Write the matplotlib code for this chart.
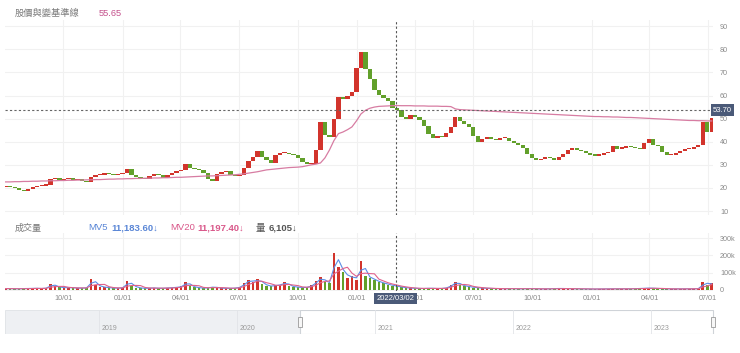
import matplotlib
matplotlib.use("Agg")
import matplotlib.pyplot as plt
import matplotlib.dates as mdates
import matplotlib.transforms as mtrans
from matplotlib.patches import Rectangle
import numpy as np
import pandas as pd

plt.rcParams['font.family'] = ['Liberation Sans', 'Noto Sans CJK TC', 'DejaVu Sans']

# ── data (weekly) ───────────────────────────────────────────
start = "2020-07-03"
close = [20.5, 20.3, 19.8, 19.2, 18.8, 19.5, 20.4, 20.8, 21.0, 21.3,
         23.9, 24.2, 23.4, 23.8, 24.3, 23.5, 23.9, 23.0, 22.6, 24.8,
         25.4, 25.8, 26.4, 26.0, 25.6, 26.1, 26.5, 28.0, 25.4, 24.7,
         24.2, 23.9, 25.2, 26.0, 25.6, 24.3, 25.5, 26.4, 27.3, 27.8,
         30.5, 28.6, 28.2, 27.6, 26.4, 23.8, 22.8, 26.2, 27.0, 27.3,
         25.6, 25.2, 25.6, 28.5, 31.5, 33.5, 36.0, 33.4, 32.0, 30.8,
         34.2, 35.0, 35.1, 34.6, 34.2, 33.0, 31.2, 30.2, 30.4, 36.4,
         48.5, 43.0, 42.0, 50.0, 59.4, 58.5, 60.0, 61.5, 72.0, 78.8,
         71.5, 67.0, 62.5, 60.2, 59.0, 57.5, 54.6, 53.7, 50.8, 50.0,
         51.6, 50.6, 49.2, 46.8, 43.5, 41.6, 42.3, 42.0, 43.8, 46.5,
         50.7, 48.8, 47.5, 46.4, 42.5, 39.9, 41.2, 42.0, 41.0, 40.7,
         41.5, 41.6, 40.2, 39.4, 38.5, 37.3, 34.5, 33.0, 32.2, 32.6,
         33.4, 32.8, 32.0, 33.5, 34.6, 36.2, 37.3, 36.4, 35.8, 35.0,
         34.3, 34.0, 34.3, 35.0, 35.5, 38.1, 37.0, 37.3, 38.1, 37.6,
         37.3, 36.8, 39.5, 41.2, 38.6, 38.1, 35.5, 34.2, 34.2, 35.2,
         35.8, 36.8, 37.0, 37.7, 38.6, 48.5, 44.0, 50.3]
baseline = [22.6, 22.6, 22.7, 22.7, 22.8, 22.8, 22.9, 22.9, 23.0, 23.0,
            23.1, 23.1, 23.2, 23.2, 23.3, 23.3, 23.4, 23.4, 23.5, 23.5,
            23.6, 23.6, 23.7, 23.8, 23.8, 23.9, 23.9, 24.0, 24.0, 24.1,
            24.1, 24.2, 24.2, 24.3, 24.3, 24.4, 24.4, 24.5, 24.6, 24.6,
            24.7, 24.8, 24.9, 25.0, 25.1, 25.2, 25.2, 25.3, 25.4, 25.5,
            25.6, 25.7, 25.9, 26.1, 26.4, 26.7, 27.0, 27.4, 27.8, 28.0,
            28.2, 28.4, 28.6, 28.8, 28.9, 29.0, 29.2, 29.6, 30.0, 30.3,
            30.8, 33.0, 36.4, 40.5, 43.5, 44.2, 45.2, 46.4, 49.0, 52.0,
            53.6, 54.5, 55.0, 55.3, 55.4, 55.5, 55.6, 55.65, 55.6, 55.6,
            55.6, 55.5, 55.5, 55.5, 55.4, 55.4, 55.4, 55.3, 55.3, 55.2,
            54.2, 53.9, 53.8, 53.7, 53.6, 53.5, 53.4, 53.3, 53.2, 53.1,
            53.0, 52.9, 52.8, 52.7, 52.6, 52.5, 52.4, 52.3, 52.2, 52.1,
            52.0, 51.9, 51.8, 51.7, 51.6, 51.5, 51.4, 51.3, 51.2, 51.1,
            51.0, 50.9, 50.9, 50.8, 50.8, 50.7, 50.7, 50.6, 50.5, 50.5,
            50.4, 50.3, 50.2, 50.1, 50.0, 49.9, 49.8, 49.7, 49.6, 49.5,
            49.4, 49.3, 49.2, 49.2, 49.1, 49.1, 49.0, 49.0]
volume_k = [8, 7, 6, 7, 9, 8, 10, 9, 8, 12,
            35, 20, 15, 12, 14, 12, 10, 11, 13, 65,
            30, 18, 15, 12, 10, 11, 14, 52, 25, 14,
            10, 9, 12, 11, 9, 10, 12, 14, 16, 20,
            48, 22, 15, 12, 10, 14, 18, 12, 10, 9,
            10, 11, 18, 40, 58, 45, 63, 35, 25, 20,
            30, 28, 46, 22, 18, 15, 14, 16, 28, 52,
            72, 45, 40, 215, 135, 105, 70, 80, 60, 168,
            80, 70, 55, 45, 38, 30, 25, 20, 15, 12,
            10, 9, 8, 9, 10, 9, 8, 9, 14, 30,
            47, 28, 22, 18, 14, 12, 10, 9, 8, 8,
            7, 7, 8, 7, 6, 7, 8, 7, 6, 6,
            6, 7, 8, 9, 8, 7, 7, 6, 6, 6,
            5, 5, 6, 6, 6, 7, 6, 6, 6, 7,
            8, 9, 10, 11, 9, 8, 7, 6, 6, 6,
            6, 7, 6, 7, 8, 47, 30, 40]

cross_date = "2022-03-02"
cross_price = 53.70
header_name = "股價與變基準線"
header_value = "55.65"
mv5_text = "11,183.60↓"
mv20_text = "11,197.40↓"
vol_text = "6,105↓"

price_ticks = [10, 20, 30, 40, 50, 60, 70, 80, 90]
vol_ticks = [0, 100_000, 200_000, 300_000]
vol_tick_labels = ["0", "100k", "200k", "300k"]
nav_years = [2019, 2020, 2021, 2022, 2023]

# ── prep ────────────────────────────────────────────────────
dates = pd.date_range(start, periods=len(close), freq="7D")
c = np.array(close)
o = np.r_[c[0], c[:-1]]
up = c >= o
RED, GREEN = "#d2342c", "#62a02b"
cols = np.where(up, RED, GREEN)
vol = pd.Series(volume_k, dtype=float) * 1000
mv5 = vol.rolling(2, min_periods=1).mean()
mv20 = vol.rolling(4, min_periods=1).mean()
xd = pd.Timestamp(cross_date)

W, H = 740, 353
fig = plt.figure(figsize=(W / 100, H / 100), dpi=100)
fig.patch.set_facecolor("white")

ax_p = fig.add_axes([5 / W, 138 / H, 708 / W, 195 / H])
ax_v = fig.add_axes([5 / W, 62 / H, 708 / W, 58 / H], sharex=ax_p)
ax_n = fig.add_axes([5 / W, 19 / H, 710 / W, 24 / H])

# ── price panel ─────────────────────────────────────────────
ax_p.bar(dates, np.maximum(np.abs(c - o), 0.5), bottom=np.minimum(c, o),
         width=6.6, color=cols, linewidth=0, zorder=3)
ax_p.plot(dates, baseline, color="#d77ca2", lw=0.9, zorder=4)
ax_p.axvline(xd, color="#555", ls=(0, (2, 2)), lw=0.8, zorder=5)
ax_p.axhline(cross_price, color="#666", ls=(0, (2, 2)), lw=0.8, zorder=5)
ax_p.set_ylim(8.27, 92.7)
ax_p.set_yticks(price_ticks)
ax_p.yaxis.tick_right()
ax_p.tick_params(axis="y", length=0, pad=5, labelsize=5.2, labelcolor="#8a8a8a")
ax_p.tick_params(axis="x", length=0, labelbottom=False)
ax_p.grid(True, color="#f1f1f1", lw=0.8, zorder=0)
bt = mtrans.blended_transform_factory(ax_p.transAxes, ax_p.transData)
ax_p.text(1.0, cross_price, f"{cross_price:.2f}", transform=bt, ha="left", va="center",
          color="white", fontsize=5.5, zorder=6,
          bbox=dict(boxstyle="square,pad=0.3", fc="#4b5a78", ec="none"))

# ── volume panel ────────────────────────────────────────────
ax_v.bar(dates, vol, width=4.0, color=cols, linewidth=0, zorder=3)
ax_v.plot(dates, mv5, color="#5b8ee6", lw=0.8, zorder=4)
ax_v.plot(dates, mv20, color="#e0628c", lw=0.8, zorder=4)
ax_v.axvline(xd, color="#555", ls=(0, (2, 2)), lw=0.8, zorder=5)
ax_v.set_ylim(-6000, 329000)
ax_v.set_yticks(vol_ticks)
ax_v.set_yticklabels(vol_tick_labels)
ax_v.yaxis.tick_right()
ax_v.tick_params(axis="y", length=0, pad=5, labelsize=5.2, labelcolor="#8a8a8a")
ax_v.xaxis.set_major_locator(mdates.MonthLocator(bymonth=[1, 4, 7, 10]))
ax_v.xaxis.set_major_formatter(mdates.DateFormatter("%m/%d"))
ax_v.tick_params(axis="x", length=0, pad=3, labelsize=5.2, labelcolor="#8a8a8a")
ax_v.grid(True, color="#f1f1f1", lw=0.8, zorder=0)
ax_v.set_xlim(pd.Timestamp("2020-07-02"), pd.Timestamp("2023-07-09"))
bv = mtrans.blended_transform_factory(ax_v.transData, ax_v.transAxes)
ax_v.text(xd, -0.13, xd.strftime("%Y/%m/%d"), transform=bv, ha="center", va="center",
          color="white", fontsize=5.5, zorder=6, clip_on=False,
          bbox=dict(boxstyle="square,pad=0.3", fc="#4b5a78", ec="none"))

for ax in (ax_p, ax_v, ax_n):
    for s in ax.spines.values():
        s.set_visible(False)

# ── headers ─────────────────────────────────────────────────
fig.text(15 / W, 1 - 13 / H, header_name, fontsize=6.7, color="#7a7a7a", va="center")
fig.text(99 / W, 1 - 13 / H, header_value, fontsize=6.7, color="#c4508c", va="center")
yv = 1 - 228 / H
fig.text(15 / W, yv, "成交量", fontsize=6.5, color="#7a7a7a", va="center")
fig.text(88 / W, yv, "MV5", fontsize=6.8, color="#5a86d6", va="center")
fig.text(111 / W, yv, mv5_text, fontsize=6.8, color="#5a86d6", va="center", weight="bold")
fig.text(170 / W, yv, "MV20", fontsize=6.8, color="#d9588a", va="center")
fig.text(197 / W, yv, mv20_text, fontsize=6.8, color="#d9588a", va="center", weight="bold")
fig.text(256 / W, yv, "量", fontsize=6.8, color="#555", va="center")
fig.text(269 / W, yv, vol_text, fontsize=6.8, color="#555", va="center", weight="bold")

# ── navigator ───────────────────────────────────────────────
nav_l, nav_r = 2018.319, 2023.464
h_left, h_right = 2020.457, 2023.449
ax_n.set_xlim(nav_l, nav_r)
ax_n.set_ylim(0, 1)
ax_n.set_xticks([])
ax_n.set_yticks([])
ax_n.add_patch(Rectangle((nav_l, 0), h_left - nav_l, 1, fc="#eef0f3", ec="#dfe2e6", lw=0.6))
ax_n.add_patch(Rectangle((h_left, 0), h_right - h_left, 1, fc="white", ec="#cfd3d8", lw=0.8))
for yr in nav_years:
    ax_n.axvline(yr, color="#e2e4e8", lw=0.6, zorder=1)
    ax_n.text(yr + 0.02, 0.25, str(yr), fontsize=5, color="#9a9a9a", va="center")
for hx in (h_left, h_right):
    ax_n.add_patch(Rectangle((hx - 0.017, 0.3), 0.034, 0.42, fc="#f7f7f7",
                             ec="#9a9a9a", lw=0.6, zorder=5, clip_on=False))

fig.savefig("out.png", dpi=100)
